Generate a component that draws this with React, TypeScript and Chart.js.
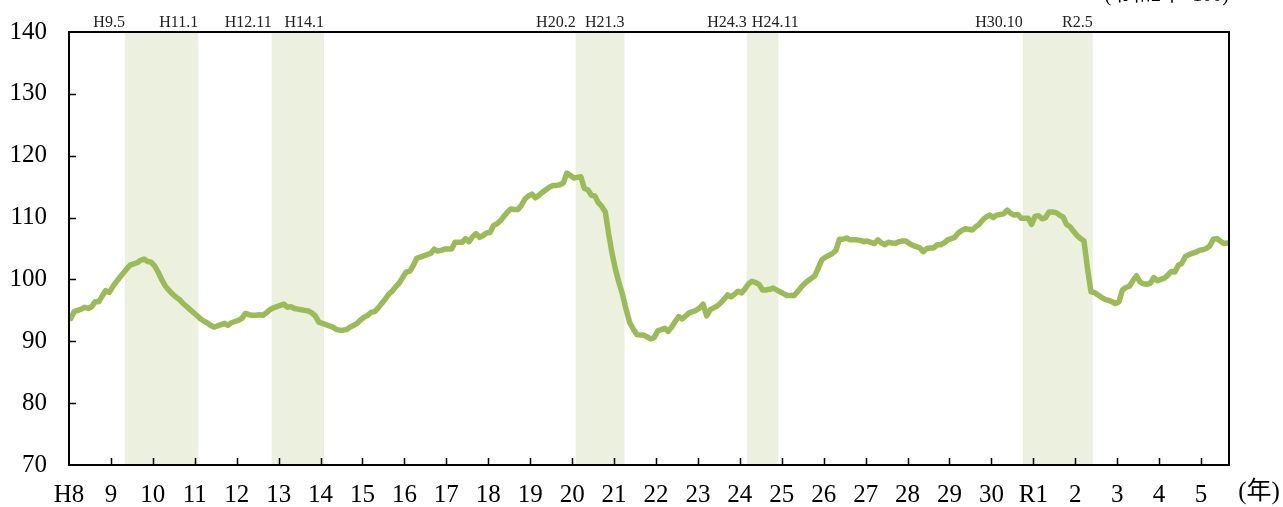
import React, { useEffect, useRef } from "react";
import Chart from "chart.js/auto";

// Monthly index values, 1996.1 (H8.1) onward
const VALUES_1996_2000 = [
  93.7, 94.8, 95.0, 95.2, 95.5, 95.3, 95.6, 96.4, 96.4, 97.3, 98.2, 97.9,
  98.8, 99.6, 100.3, 101.0, 101.7, 102.3, 102.5, 102.7, 103.1, 103.3, 102.9, 102.8,
  102.2, 101.2, 100.0, 99.0, 98.3, 97.7, 97.2, 96.8, 96.2, 95.7, 95.2, 94.7,
  94.2, 93.7, 93.3, 93.0, 92.6, 92.3, 92.5, 92.7, 92.9, 92.6, 93.0, 93.2,
  93.4, 93.7, 94.5, 94.3, 94.2, 94.2, 94.3, 94.2, 94.6, 95.1, 95.4, 95.6,
];
const VALUES_2001_2005 = [
  95.8, 96.0, 95.5, 95.6, 95.3, 95.2, 95.1, 95.0, 94.9, 94.6, 94.1, 93.1,
  92.9, 92.7, 92.5, 92.3, 91.9, 91.8, 91.8, 91.9, 92.3, 92.6, 92.9, 93.5,
  93.9, 94.2, 94.7, 94.8, 95.4, 96.1, 96.8, 97.6, 98.1, 98.8, 99.4, 100.3,
  101.2, 101.3, 102.2, 103.4, 103.6, 103.8, 104.0, 104.2, 104.9, 104.6, 104.7, 104.9,
  104.9, 104.9, 106.0, 106.0, 106.0, 106.6, 106.1, 106.9, 107.4, 106.8, 107.1, 107.5,
];
const VALUES_2006_2010 = [
  107.6, 108.7, 109.0, 109.5, 110.2, 110.9, 111.4, 111.3, 111.3, 112.0, 113.0, 113.5,
  113.8, 113.2, 113.6, 114.1, 114.5, 114.9, 115.2, 115.2, 115.3, 115.6, 117.2, 116.8,
  116.4, 116.5, 116.6, 114.7, 114.5, 113.6, 113.5, 112.4, 111.8, 110.9, 107.2, 104.0,
  101.4, 99.3, 97.4, 95.0, 93.0, 92.0, 91.1, 91.0, 91.0, 90.7, 90.4, 90.6,
  91.7, 91.9, 92.1, 91.6, 92.3, 93.2, 94.0, 93.6, 94.1, 94.6, 94.8, 95.0,
];
const VALUES_2011_2015 = [
  95.4, 96.0, 94.1, 95.1, 95.4, 95.7, 96.2, 96.8, 97.5, 97.2, 97.6, 98.1,
  97.8, 98.5, 99.3, 99.7, 99.5, 99.2, 98.3, 98.3, 98.4, 98.6, 98.3, 98.0,
  97.7, 97.4, 97.4, 97.4, 98.0, 98.7, 99.3, 99.8, 100.2, 100.6, 101.9, 103.2,
  103.6, 103.9, 104.2, 104.7, 106.5, 106.5, 106.7, 106.4, 106.4, 106.4, 106.3, 106.1,
  106.2, 106.0, 105.8, 106.4, 105.9, 105.6, 106.0, 105.9, 105.8, 106.1, 106.2, 106.2,
];
const VALUES_2016_2019 = [
  105.8, 105.5, 105.3, 105.1, 104.5, 105.0, 105.1, 105.1, 105.6, 105.6, 105.9, 106.4,
  106.6, 106.8, 107.5, 107.9, 108.2, 108.1, 108.0, 108.5, 108.9, 109.6, 110.1, 110.4,
  110.0, 110.4, 110.5, 110.6, 111.2, 110.7, 110.4, 110.5, 109.9, 109.9, 109.9, 108.9,
  110.2, 110.3, 109.8, 110.0, 110.9, 110.9, 110.8, 110.4, 110.1, 108.9, 108.5, 107.8,
];
const VALUES_2020_2023 = [
  107.1, 106.6, 106.2, 101.8, 98.0, 97.9, 97.5, 97.1, 96.8, 96.6, 96.4, 96.1,
  96.4, 98.3, 98.7, 98.9, 99.8, 100.6, 99.6, 99.3, 99.2, 99.4, 100.3, 99.8,
  100.0, 100.2, 100.7, 101.3, 101.2, 102.3, 102.6, 103.7, 104.0, 104.2, 104.4, 104.7,
  104.8, 105.0, 105.4, 106.5, 106.6, 106.2, 105.8, 105.9,
];

const START_YEAR = 1996;
const YEAR_LABELS = [
  "H8", "9", "10", "11", "12", "13", "14", "15", "16", "17", "18", "19", "20",
  "21", "22", "23", "24", "25", "26", "27", "28", "29", "30", "R1", "2", "3", "4", "5",
];
const Y_MIN = 70;
const Y_MAX = 140;
const Y_STEP = 10;

// Business cycle peaks / troughs (year, month)
const PEAK_DATES = [[1997, 5], [2000, 11], [2008, 2], [2012, 3], [2018, 10]];
const TROUGH_DATES = [[1999, 1], [2002, 1], [2009, 3], [2012, 11], [2020, 5]];
const PEAK_LABELS = ["H9.5", "H12.11", "H20.2", "H24.3", "H30.10"];
const TROUGH_LABELS = ["H11.1", "H14.1", "H21.3", "H24.11", "R2.5"];

const UNIT_NOTE = "(令和2年=100)";
const YEAR_UNIT = "(年)";

const ALL_VALUES = [
  ...VALUES_1996_2000,
  ...VALUES_2001_2005,
  ...VALUES_2006_2010,
  ...VALUES_2011_2015,
  ...VALUES_2016_2019,
  ...VALUES_2020_2023,
];

const toIdx = (d: number[]) => (d[0] - START_YEAR) * 12 + (d[1] - 1);

const SERIF = "'Liberation Serif', 'Noto Sans CJK JP', serif";

const decorPlugin = {
  id: "decor",
  beforeDatasetsDraw(chart: any) {
    const { ctx, chartArea, scales } = chart;
    const x = scales.x;
    ctx.save();
    ctx.fillStyle = "#EBF1DE";
    PEAK_DATES.forEach((p, k) => {
      const s = x.getPixelForValue(toIdx(p));
      const e = x.getPixelForValue(toIdx(TROUGH_DATES[k]) + 1);
      ctx.fillRect(s, chartArea.top, e - s, chartArea.bottom - chartArea.top);
    });
    ctx.restore();
  },
  afterDatasetsDraw(chart: any) {
    const { ctx, chartArea, scales } = chart;
    const { left, right, top, bottom } = chartArea;
    const x = scales.x;
    const y = scales.y;
    ctx.save();
    // frame
    ctx.strokeStyle = "#000";
    ctx.lineWidth = 2;
    ctx.strokeRect(left, top, right - left, bottom - top);
    // inner tick marks
    ctx.lineWidth = 1.5;
    ctx.beginPath();
    for (let v = Y_MIN + Y_STEP; v < Y_MAX; v += Y_STEP) {
      const py = Math.round(y.getPixelForValue(v)) + 0.5;
      ctx.moveTo(left, py);
      ctx.lineTo(left + 7, py);
    }
    for (let k = 1; k < YEAR_LABELS.length; k++) {
      const px = Math.round(x.getPixelForValue(k * 12)) + 0.5;
      ctx.moveTo(px, bottom);
      ctx.lineTo(px, bottom - 7);
    }
    ctx.stroke();

    // cycle labels on top
    ctx.font = `16px ${SERIF}`;
    ctx.fillStyle = "#222";
    ctx.textBaseline = "alphabetic";
    const baseY = top - 5;
    PEAK_DATES.forEach((p, k) => {
      const s = x.getPixelForValue(toIdx(p));
      const e = x.getPixelForValue(toIdx(TROUGH_DATES[k]) + 1);
      const pw = ctx.measureText(PEAK_LABELS[k]).width;
      ctx.textAlign = "left";
      ctx.fillText(PEAK_LABELS[k], s - pw, baseY);
      const tw = ctx.measureText(TROUGH_LABELS[k]).width;
      let tx = e - tw;
      if (tx < s + 5) tx = s + 5;
      ctx.fillText(TROUGH_LABELS[k], tx, baseY);
    });

    // year unit
    ctx.font = `25px ${SERIF}`;
    ctx.fillStyle = "#000";
    ctx.textAlign = "center";
    ctx.textBaseline = "top";
    ctx.fillText(YEAR_UNIT, right + 30, bottom + 15);

    // unit note (partly outside top)
    ctx.font = `20px ${SERIF}`;
    ctx.textAlign = "right";
    ctx.textBaseline = "alphabetic";
    ctx.fillText(UNIT_NOTE, right, 1);
    ctx.restore();
  },
};

export default function App() {
  const ref = useRef<HTMLCanvasElement | null>(null);
  useEffect(() => {
    document.body.style.margin = "0";
    const data = ALL_VALUES.map((v, i) => ({ x: i + 0.5, y: v }));
    const chart = new Chart(ref.current as HTMLCanvasElement, {
      type: "line",
      data: {
        datasets: [
          {
            data,
            borderColor: "#9BBB59",
            borderWidth: 5.5,
            pointRadius: 0,
            tension: 0,
            borderJoinStyle: "round",
            borderCapStyle: "round",
          } as any,
        ],
      },
      options: {
        animation: false,
        responsive: true,
        maintainAspectRatio: false,
        layout: { padding: { left: 0, right: 54, top: 32, bottom: 0 } },
        plugins: { legend: { display: false }, tooltip: { enabled: false } },
        scales: {
          x: {
            type: "linear",
            min: 0,
            max: ALL_VALUES.length,
            grid: { display: false, drawTicks: false },
            border: { display: false },
            afterBuildTicks: (scale: any) => {
              scale.ticks = YEAR_LABELS.map((_, k) => ({ value: k * 12 }));
            },
            afterFit: (scale: any) => {
              scale.height = 42;
              scale.paddingLeft = 0;
              scale.paddingRight = 0;
            },
            ticks: {
              autoSkip: false,
              maxRotation: 0,
              padding: 15,
              color: "#000",
              font: { family: SERIF, size: 25 },
              callback: (v: any) => YEAR_LABELS[Math.round(Number(v) / 12)] ?? "",
            },
          },
          y: {
            min: Y_MIN,
            max: Y_MAX,
            grid: { display: false, drawTicks: false },
            border: { display: false },
            afterFit: (scale: any) => {
              scale.width = 69;
              scale.paddingTop = 0;
              scale.paddingBottom = 0;
            },
            ticks: {
              stepSize: Y_STEP,
              padding: 22,
              color: "#000",
              font: { family: SERIF, size: 25 },
            },
          },
        },
      },
      plugins: [decorPlugin],
    });
    return () => chart.destroy();
  }, []);
  return (
    <div style={{ position: "fixed", left: 0, top: 0, width: 1283, height: 507 }}>
      <canvas ref={ref} />
    </div>
  );
}
